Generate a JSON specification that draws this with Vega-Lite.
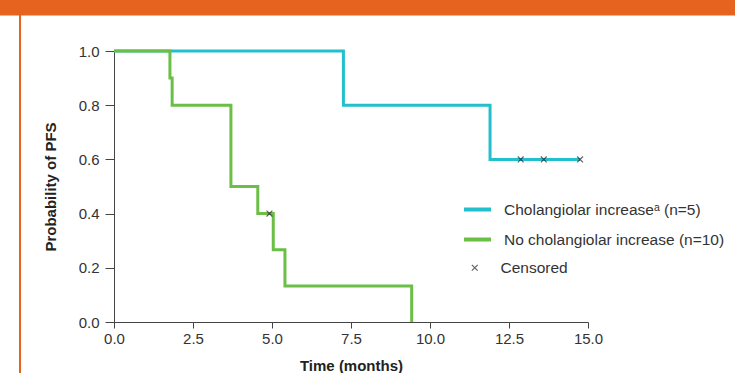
{
  "$schema": "https://vega.github.io/schema/vega-lite/v6.json",
  "width": 474,
  "height": 271,
  "autosize": {"type": "none"},
  "padding": {"left": 114, "top": 51, "right": 147, "bottom": 51},
  "background": "white",
  "config": {
    "view": {"stroke": null},
    "font": "Liberation Sans",
    "axis": {"labelFontSize": 15, "titleFontSize": 15}
  },
  "datasets": {
    "curves": [
      {"group": "Cholangiolar increaseᵃ (n=5)", "time": 0, "surv": 1},
      {"group": "Cholangiolar increaseᵃ (n=5)", "time": 7.26, "surv": 0.8},
      {"group": "Cholangiolar increaseᵃ (n=5)", "time": 11.9, "surv": 0.6},
      {"group": "Cholangiolar increaseᵃ (n=5)", "time": 14.75, "surv": 0.6},
      {"group": "No cholangiolar increase (n=10)", "time": 0, "surv": 1},
      {"group": "No cholangiolar increase (n=10)", "time": 1.77, "surv": 0.9},
      {"group": "No cholangiolar increase (n=10)", "time": 1.84, "surv": 0.8},
      {"group": "No cholangiolar increase (n=10)", "time": 3.7, "surv": 0.5},
      {"group": "No cholangiolar increase (n=10)", "time": 4.55, "surv": 0.4},
      {"group": "No cholangiolar increase (n=10)", "time": 5.04, "surv": 0.267},
      {"group": "No cholangiolar increase (n=10)", "time": 5.41, "surv": 0.133},
      {"group": "No cholangiolar increase (n=10)", "time": 9.42, "surv": 0}
    ],
    "censored": [
      {"group": "No cholangiolar increase (n=10)", "time": 4.92, "surv": 0.4},
      {"group": "Cholangiolar increaseᵃ (n=5)", "time": 12.87, "surv": 0.6},
      {"group": "Cholangiolar increaseᵃ (n=5)", "time": 13.6, "surv": 0.6},
      {"group": "Cholangiolar increaseᵃ (n=5)", "time": 14.75, "surv": 0.6}
    ]
  },
  "layer": [
    {
      "data": {"name": "curves"},
      "mark": {"type": "line", "interpolate": "step-after", "strokeWidth": 3, "clip": false},
      "encoding": {
        "x": {
          "field": "time", "type": "quantitative",
          "scale": {"domain": [0, 15], "nice": false, "zero": false},
          "axis": {
            "title": "Time (months)", "values": [0, 2.5, 5, 7.5, 10, 12.5, 15], "format": ".1f",
            "labelPadding": 3, "titlePadding": 12, "labelFontSize": 15, "labelColor": "#333333",
            "labelFont": "Liberation Sans", "titleFont": "Liberation Sans", "titleFontSize": 15,
            "titleFontWeight": "bold", "titleColor": "#222222", "domainColor": "#444444",
            "tickColor": "#444444", "tickSize": 6, "grid": false, "labelAlign": "center", "labelFlush": false
          }
        },
        "y": {
          "field": "surv", "type": "quantitative",
          "scale": {"domain": [0, 1], "nice": false},
          "axis": {
            "title": "Probability of PFS", "values": [0, 0.2, 0.4, 0.6, 0.8, 1], "format": ".1f",
            "labelPadding": 6, "titlePadding": 20, "labelFontSize": 15, "labelColor": "#333333",
            "labelFont": "Liberation Sans", "titleFont": "Liberation Sans", "titleFontSize": 15,
            "titleFontWeight": "bold", "titleColor": "#222222", "domainColor": "#444444",
            "tickColor": "#444444", "tickSize": 9, "grid": false, "labelFlush": false
          }
        },
        "color": {
          "field": "group", "type": "nominal",
          "scale": {"domain": ["Cholangiolar increaseᵃ (n=5)", "No cholangiolar increase (n=10)"], "range": ["#22BFCC", "#6BBF47"]},
          "legend": {
            "title": null,
            "orient": "none",
            "legendX": 348,
            "legendY": 143,
            "symbolType": "stroke",
            "symbolSize": 729,
            "symbolStrokeWidth": 4,
            "labelOffset": 11,
            "labelLimit": 0,
            "labelFont": "Liberation Sans",
            "labelFontSize": 15.5,
            "labelColor": "#333333",
            "rowPadding": 6
          }
        },
        "detail": {"field": "group"}
      }
    },
    {
      "data": {"name": "censored"},
      "mark": {"type": "point", "filled": false, "stroke": "#222222", "strokeWidth": 1.2, "size": 34, "clip": false},
      "encoding": {
        "x": {"field": "time", "type": "quantitative"},
        "y": {"field": "surv", "type": "quantitative"},
        "shape": {
          "datum": "Censored",
          "scale": {"domain": ["Censored"], "range": ["M-1,-1L1,1M-1,1L1,-1"]},
          "legend": {
            "title": null,
            "orient": "none",
            "legendX": 353,
            "legendY": 209,
            "symbolSize": 34,
            "symbolStrokeColor": "#222222",
            "symbolFillColor": "transparent",
            "symbolStrokeWidth": 1.2,
            "labelOffset": 18,
            "labelLimit": 0,
            "labelFont": "Liberation Sans",
            "labelFontSize": 15.5,
            "labelColor": "#333333"
          }
        }
      }
    },
    {
      "data": {"values": [{}]},
      "mark": {"type": "rect", "color": "#E5621F", "clip": false},
      "encoding": {
        "x": {"datum": -3.61, "type": "quantitative"},
        "x2": {"datum": 19.7},
        "y": {"datum": 1.19, "type": "quantitative"},
        "y2": {"datum": 1.131}
      }
    },
    {
      "data": {"values": [{}]},
      "mark": {"type": "rect", "color": "#E5621F", "clip": false},
      "encoding": {
        "x": {"datum": -3.006, "type": "quantitative"},
        "x2": {"datum": -2.943},
        "y": {"datum": 1.19, "type": "quantitative"},
        "y2": {"datum": -0.19}
      }
    }
  ],
  "resolve": {"legend": {"shape": "independent", "color": "independent"}}
}
